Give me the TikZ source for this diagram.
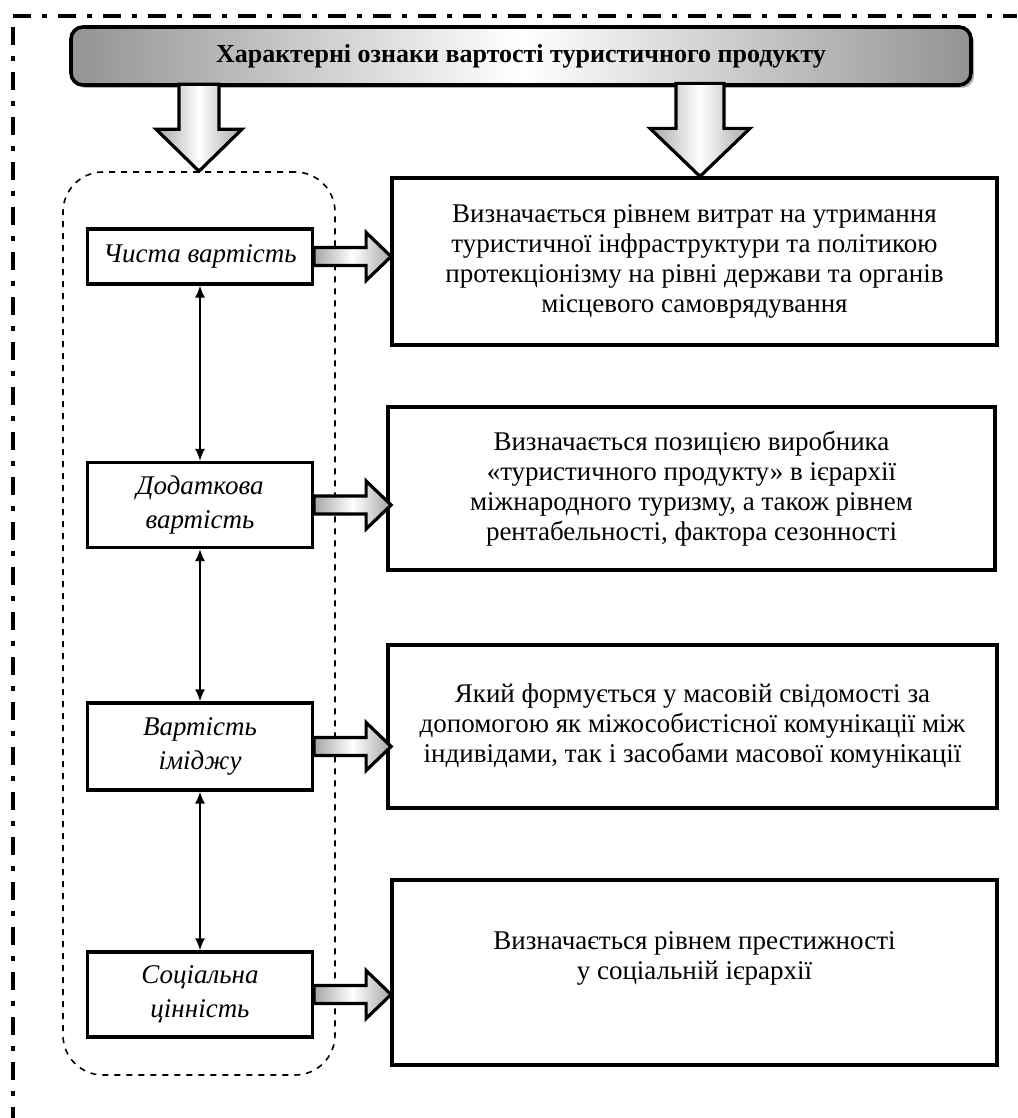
\documentclass[tikz,border=0pt]{standalone}
\usepackage{fontspec}
\setmainfont{Liberation Serif}
\usepackage{tikz}
\usetikzlibrary{arrows.meta,shadows}

\newlength\px
\setlength\px{0.5pt}

\begin{document}
\begin{tikzpicture}[x=1\px,y=-1\px,font=\fontsize{13.5}{15}\selectfont,
frame/.style={line width=2pt,dash pattern=on 9pt off 5.5pt on 2.5pt off 5.5pt},
headbox/.style={draw,line width=1.8pt,rounded corners=6pt,left color=gray!85,right color=gray!85,middle color=white,minimum width=900\px,minimum height=58\px,font=\bfseries\fontsize{13}{15}\selectfont},
costbox/.style={draw,line width=1.6pt,fill=white,minimum width=225\px,align=center,font=\itshape\fontsize{13.5}{17}\selectfont},
descbox/.style={draw,line width=1.6pt,fill=white,align=center},
grpbox/.style={draw,dashed,line width=0.8pt,rounded corners=20pt,inner sep=0pt},
blockarr/.style={draw,line width=1.6pt,line join=miter,left color=gray!70,right color=gray!70,middle color=white},
link/.style={line width=0.8pt,{Latex[length=6pt,width=5pt]}-{Latex[length=6pt,width=5pt]}}]
\useasboundingbox (0,0) rectangle (1017,1118);
\draw[frame] (13,16) -- (1017,16);
\draw[frame] (13,27) -- (13,1118);

\node[headbox,drop shadow={shadow xshift=1.5pt,shadow yshift=-1.5pt,fill=black!60}] (head) at (521,56) {Характерні ознаки вартості туристичного продукту};

\node[grpbox,minimum width=272\px,minimum height=903\px] (grp) at (199,623.5) {};

% values
\node[costbox,minimum height=55\px] (c1) at (200,256.5) {Чиста вартість};
\node[costbox,minimum height=85\px] (c2) at (200,505) {Додаткова\\вартість};
\node[costbox,minimum height=87\px] (c3) at (200,746.5) {Вартість\\іміджу};
\node[costbox,minimum height=85\px] (c4) at (200,994.5) {Соціальна\\цінність};

% descriptions
\node[descbox,minimum width=605\px,minimum height=167\px] (d1) at (694.5,261.5) {Визначається рівнем витрат на утримання\\туристичної інфраструктури та політикою\\протекціонізму на рівні держави та органів\\місцевого самоврядування};
\node[descbox,minimum width=607\px,minimum height=163\px] (d2) at (691.5,488.5) {Визначається позицією виробника\\«туристичного продукту» в ієрархії\\міжнародного туризму, а також рівнем\\рентабельності, фактора сезонності};
\node[descbox,minimum width=609\px,minimum height=163\px] (d3) at (692.5,726.5) {Який формується у масовій свідомості за\\допомогою як міжособистісної комунікації між\\індивідами, так і засобами масової комунікації};
\node[descbox,minimum width=605\px,minimum height=185\px] (d4) at (694.5,972.5) {Визначається рівнем престижності\\у соціальній ієрархії\\[4\px]};

% arrows
\path[blockarr] (grp.north) -- ++(-43,-42) -- ++(23,0) -- ++(0,-45) -- ++(40,0) -- ++(0,45) -- ++(23,0) -- cycle;
\path[blockarr] ([xshift=5.5\px]d1.north) -- ++(-50,-48) -- ++(26,0) -- ++(0,-45) -- ++(48,0) -- ++(0,45) -- ++(26,0) -- cycle;
\foreach \i in {1,...,4} {
   \path[blockarr] (c\i.east) ++(0,-9) -- ++(52,0) -- ++(0,-15) -- ++(25,24) -- ++(-25,24) -- ++(0,-15) -- ++(-52,0) -- cycle;
}
\foreach \a/\b in {c1/c2,c2/c3,c3/c4} {
   \draw[link] (\a) -- (\b);
}
\end{tikzpicture}
\end{document}
